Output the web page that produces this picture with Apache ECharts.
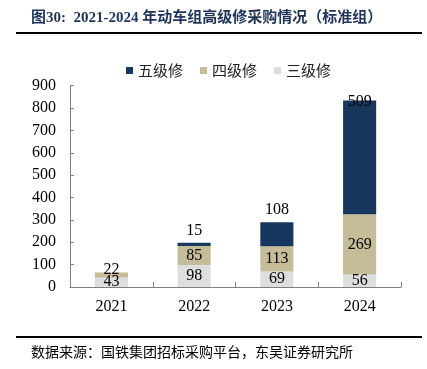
<!DOCTYPE html>
<html><head><meta charset="utf-8">
<script src="https://cdn.jsdelivr.net/npm/echarts@6/dist/echarts.min.js"></script>
<style>html,body{margin:0;padding:0;background:#fff}#c{width:427px;height:369px}</style>
</head><body><div id="c"></div>
<script>
const categories = ['2021', '2022', '2023', '2024'];
const level3 = [43, 98, 69, 56];
const level4 = [22, 85, 113, 269];
const level5 = [null, 15, 108, 509];
const yTicks = [0, 100, 200, 300, 400, 500, 600, 700, 800, 900];

const serif = '"Liberation Serif", "Times New Roman", serif';
const cjk = '"Noto Sans CJK SC", sans-serif';
const labelStyle = { show: true, color: '#000', fontFamily: serif, fontSize: 16 };

const chart = echarts.init(document.getElementById('c'));
chart.setOption({
  animation: false,
  title: [
    { text: '图30:  2021-2024 年动车组高级修采购情况（标准组）', left: 26, top: 6,
      textStyle: { color: '#1f3458', fontSize: 15, fontWeight: 'bold', fontFamily: '"Liberation Serif", "Noto Sans CJK SC", serif' } },
    { text: '数据来源：国铁集团招标采购平台，东吴证券研究所', left: 26, top: 340,
      textStyle: { color: '#000', fontSize: 14, fontWeight: 'normal', fontFamily: cjk } }
  ],
  graphic: [
    { type: 'line', shape: { x1: 16, y1: 33, x2: 422, y2: 33 }, style: { stroke: '#000', lineWidth: 2 } },
    { type: 'line', shape: { x1: 16, y1: 337, x2: 422, y2: 337 }, style: { stroke: '#000', lineWidth: 2 } }
  ],
  legend: {
    data: ['五级修', '四级修', '三级修'],
    left: 121, top: 58, itemWidth: 7, itemHeight: 7, itemGap: 17, icon: 'rect',
    textStyle: { fontFamily: cjk, fontSize: 15, color: '#222' }
  },
  grid: { left: 70, right: 26, top: 85.7, bottom: 82 },
  xAxis: {
    type: 'category', data: categories,
    axisLine: { lineStyle: { color: '#808080' } },
    axisTick: { show: true, inside: true, length: 5, lineStyle: { color: '#808080' } },
    axisLabel: { color: '#000', fontFamily: serif, fontSize: 16, margin: 12 }
  },
  yAxis: {
    type: 'value', min: yTicks[0], max: yTicks[yTicks.length - 1], interval: 100,
    axisLine: { show: true, lineStyle: { color: '#808080' } },
    axisTick: { show: true, inside: true, length: 4, lineStyle: { color: '#808080' } },
    splitLine: { show: false },
    axisLabel: { color: '#000', fontFamily: serif, fontSize: 16, margin: 14 }
  },
  series: [
    { name: '三级修', type: 'bar', stack: 's', barWidth: '40%', data: level3,
      itemStyle: { color: '#dedede' }, label: Object.assign({ position: 'inside' }, labelStyle) },
    { name: '四级修', type: 'bar', stack: 's', data: level4.map((v, i) => i === 0 ? { value: v, label: { offset: [0, -5] } } : v),
      itemStyle: { color: '#c4bd97' }, label: Object.assign({ position: 'inside' }, labelStyle) },
    { name: '五级修', type: 'bar', stack: 's', data: level5.map((v, i) => i === 3 ? { value: v, label: { distance: -9 } } : v),
      itemStyle: { color: '#17375e' }, label: Object.assign({ position: 'top', distance: 4 }, labelStyle) }
  ]
});
</script></body></html>
